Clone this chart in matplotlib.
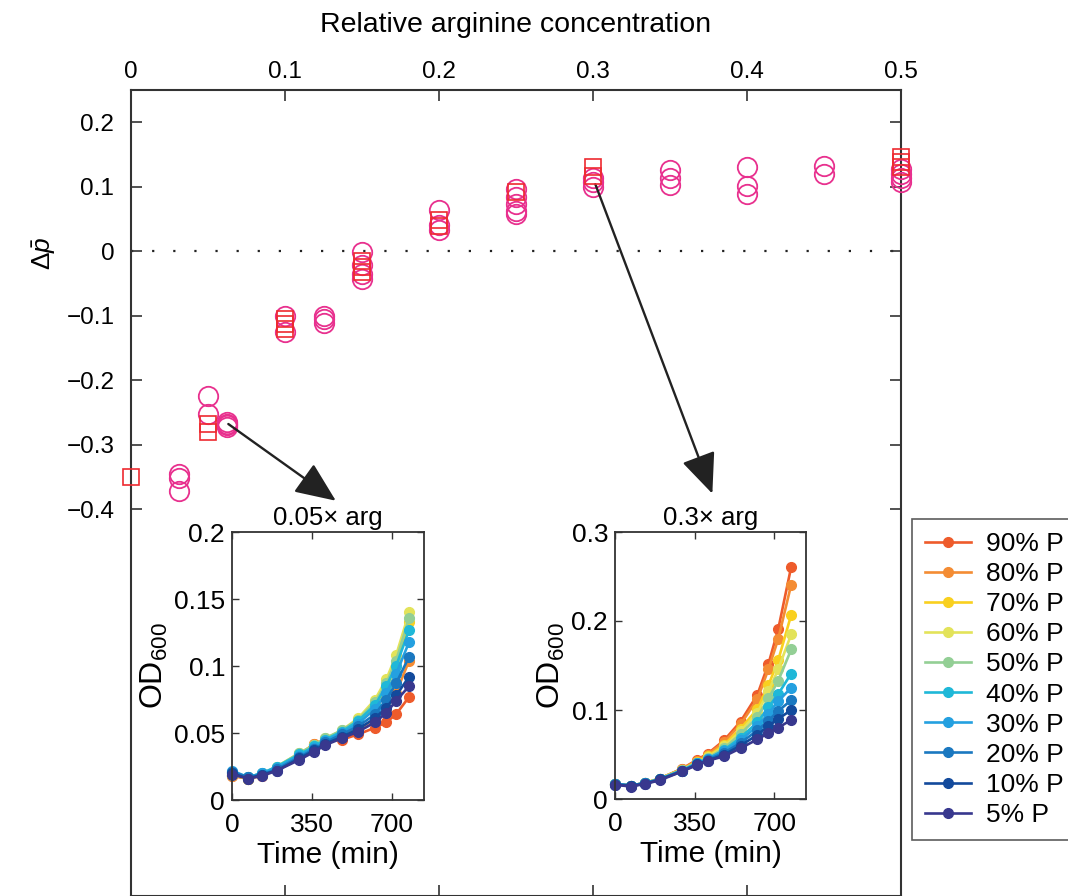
import matplotlib
matplotlib.use("Agg")
import matplotlib.pyplot as plt
import numpy as np

plt.rcParams['font.family'] = ['Liberation Sans', 'DejaVu Sans']
plt.rcParams['mathtext.fontset'] = 'custom'
plt.rcParams['mathtext.rm'] = 'Liberation Sans'
plt.rcParams['mathtext.it'] = 'Liberation Sans:italic'

# main panel: relative arginine concentration vs delta p-bar
circ_x = [0.03125] * 3 + [0.05] * 2 + [0.0625] * 4 + [0.1] * 2 + [0.125] * 3 \
    + [0.15] * 4 + [0.2] * 3 + [0.25] * 5 + [0.3] * 3 + [0.35] * 3 \
    + [0.4] * 3 + [0.45] * 2 + [0.5] * 4
circ_y = [-0.345, -0.351, -0.372,
          -0.225, -0.252,
          -0.265, -0.268, -0.270, -0.272,
          -0.100, -0.126,
          -0.100, -0.105, -0.111,
          -0.002, -0.022, -0.035, -0.043,
          0.064, 0.040, 0.033,
          0.096, 0.084, 0.073, 0.063, 0.057,
          0.114, 0.107, 0.099,
          0.126, 0.114, 0.102,
          0.131, 0.101, 0.088,
          0.132, 0.120,
          0.127, 0.120, 0.113, 0.107]
sq_x = [0.0, 0.05, 0.05, 0.1, 0.1, 0.1, 0.15, 0.15, 0.15, 0.2, 0.2,
        0.25, 0.3, 0.3, 0.5, 0.5, 0.5]
sq_y = [-0.350, -0.268, -0.281, -0.105, -0.113, -0.121, -0.015, -0.025, -0.033,
        0.048, 0.039, 0.092, 0.130, 0.116, 0.146, 0.139, 0.131]

# insets: OD600 growth curves
time_min = [0, 70, 133, 197, 295, 360, 408, 480, 552, 626, 675, 718, 775]
labels = ['90% P', '80% P', '70% P', '60% P', '50% P',
          '40% P', '30% P', '20% P', '10% P', '5% P']
colors = ['#EE5B2B', '#F48C33', '#F9D01F', '#E3E35A', '#93CF95',
          '#1FB8D8', '#24A0E0', '#1A78C0', '#134A9C', '#38388E']

od_005 = [
    [0.018, 0.016, 0.018, 0.023, 0.033, 0.042, 0.044, 0.045, 0.049, 0.054, 0.058, 0.064, 0.077],
    [0.018, 0.016, 0.019, 0.024, 0.034, 0.042, 0.045, 0.048, 0.053, 0.060, 0.068, 0.080, 0.104],
    [0.019, 0.016, 0.019, 0.024, 0.034, 0.041, 0.045, 0.050, 0.058, 0.070, 0.082, 0.100, 0.133],
    [0.019, 0.016, 0.019, 0.025, 0.035, 0.041, 0.046, 0.052, 0.061, 0.075, 0.090, 0.108, 0.140],
    [0.020, 0.017, 0.020, 0.025, 0.035, 0.041, 0.046, 0.052, 0.060, 0.073, 0.087, 0.104, 0.136],
    [0.021, 0.017, 0.020, 0.025, 0.034, 0.040, 0.045, 0.051, 0.059, 0.071, 0.085, 0.100, 0.127],
    [0.022, 0.017, 0.020, 0.024, 0.033, 0.039, 0.044, 0.050, 0.057, 0.068, 0.080, 0.094, 0.118],
    [0.021, 0.017, 0.019, 0.023, 0.032, 0.038, 0.043, 0.049, 0.055, 0.064, 0.075, 0.087, 0.107],
    [0.020, 0.016, 0.019, 0.022, 0.031, 0.037, 0.042, 0.047, 0.053, 0.061, 0.069, 0.078, 0.092],
    [0.019, 0.016, 0.018, 0.022, 0.030, 0.036, 0.041, 0.046, 0.051, 0.058, 0.065, 0.074, 0.085],
]
od_03 = [
    [0.017, 0.015, 0.018, 0.023, 0.034, 0.044, 0.051, 0.066, 0.087, 0.117, 0.152, 0.191, 0.261],
    [0.017, 0.015, 0.018, 0.023, 0.034, 0.043, 0.050, 0.064, 0.084, 0.112, 0.146, 0.180, 0.241],
    [0.017, 0.015, 0.018, 0.023, 0.033, 0.042, 0.048, 0.061, 0.079, 0.101, 0.128, 0.156, 0.207],
    [0.017, 0.015, 0.018, 0.023, 0.033, 0.041, 0.047, 0.059, 0.076, 0.097, 0.121, 0.146, 0.185],
    [0.017, 0.015, 0.018, 0.023, 0.033, 0.041, 0.046, 0.057, 0.073, 0.092, 0.113, 0.133, 0.168],
    [0.017, 0.015, 0.018, 0.022, 0.032, 0.040, 0.045, 0.055, 0.069, 0.086, 0.103, 0.118, 0.141],
    [0.017, 0.015, 0.018, 0.022, 0.032, 0.040, 0.045, 0.054, 0.066, 0.082, 0.096, 0.110, 0.125],
    [0.017, 0.015, 0.018, 0.022, 0.032, 0.039, 0.044, 0.052, 0.063, 0.077, 0.088, 0.099, 0.111],
    [0.016, 0.015, 0.017, 0.022, 0.031, 0.039, 0.043, 0.050, 0.060, 0.072, 0.082, 0.090, 0.100],
    [0.016, 0.014, 0.017, 0.021, 0.031, 0.038, 0.043, 0.048, 0.057, 0.067, 0.074, 0.080, 0.089],
]

spine_col = '#333333'
fig = plt.figure(figsize=(10.68, 8.96), dpi=100)

# Main axes (bottom runs to the figure edge)
ax = fig.add_axes([131 / 1068, 0.0, 770 / 1068, 1 - 90 / 896])
ax.set_xlim(0, 0.5)
ax.set_ylim(-1.0, 0.25)
ax.axhline(0, color='#222222', ls=(0, (1, 8.5)), lw=1.6, zorder=1)
ax.plot(circ_x, circ_y, 'o', ms=14, mfc='none', mec='#E8308E', mew=1.3,
        clip_on=False, zorder=3)
ax.plot(sq_x, sq_y, 's', ms=11, mfc='none', mec='#EE2A30', mew=1.2,
        clip_on=False, zorder=4)
ax.set_xticks([0, 0.1, 0.2, 0.3, 0.4, 0.5])
ax.set_xticklabels(['0', '0.1', '0.2', '0.3', '0.4', '0.5'])
ax.set_yticks([-0.4, -0.3, -0.2, -0.1, 0, 0.1, 0.2])
ax.set_yticklabels(['\u22120.4', '\u22120.3', '\u22120.2', '\u22120.1', '0', '0.1', '0.2'])
ax.xaxis.set_label_position('top')
ax.tick_params(axis='x', top=True, bottom=True, labeltop=True, labelbottom=False,
               direction='in', length=8, width=1.2, labelsize=17.5, pad=5, color=spine_col)
ax.tick_params(axis='y', left=True, right=True, direction='in', length=8, width=1.2,
               labelsize=17.5, pad=12, color=spine_col)
ax.set_xlabel('Relative arginine concentration', fontsize=20.5, labelpad=21)
ax.set_ylabel(r'$\Delta\bar{p}$', fontsize=19)
ax.yaxis.set_label_coords(-0.095, 0.797)
for s in ax.spines.values():
    s.set_color(spine_col)
    s.set_linewidth(1.5)

# arrows to the insets
arrow_kw = dict(arrowstyle='-|>,head_length=1.4,head_width=0.6', color='#222222',
                lw=1.7, mutation_scale=18, shrinkA=0, shrinkB=0)
ax.annotate('', xy=(0.133, -0.387), xytext=(0.0632, -0.268), arrowprops=arrow_kw)
ax.annotate('', xy=(0.3775, -0.376), xytext=(0.3015, 0.104), arrowprops=arrow_kw)


def draw_inset(rect, data, ymax, yticks, yticklabels, title):
    ia = fig.add_axes(rect)
    for lab, col, vals in zip(labels, colors, data):
        ia.plot(time_min, vals, '-o', color=col, ms=7, lw=1.9, label=lab, clip_on=False)
    ia.set_xlim(0, 840)
    ia.set_ylim(0, ymax)
    ia.set_xticks([0, 350, 700])
    ia.set_yticks(yticks)
    ia.set_yticklabels(yticklabels)
    ia.tick_params(direction='in', length=5, width=1.0, labelsize=19, top=True,
                   right=True, color=spine_col, pad=5)
    ia.tick_params(axis='x', pad=9)
    ia.set_xlabel('Time (min)', fontsize=21.5, labelpad=3)
    ia.set_ylabel(r'OD$_{600}$', fontsize=23, labelpad=3)
    ia.set_title(title, fontsize=18.5, pad=5)
    for s in ia.spines.values():
        s.set_color(spine_col)
        s.set_linewidth(1.3)
    return ia


draw_inset([232 / 1068, 1 - 800 / 896, 192 / 1068, 268 / 896], od_005, 0.2,
           [0, 0.05, 0.1, 0.15, 0.2], ['0', '0.05', '0.1', '0.15', '0.2'],
           '0.05\u00d7 arg')
ia2 = draw_inset([615 / 1068, 1 - 799 / 896, 191 / 1068, 267 / 896], od_03, 0.3,
                 [0, 0.1, 0.2, 0.3], ['0', '0.1', '0.2', '0.3'], '0.3\u00d7 arg')

handles, labs = ia2.get_legend_handles_labels()
leg = fig.legend(handles, labs, loc='upper left', bbox_to_anchor=(912 / 1068, 1 - 519 / 896),
                 fontsize=19, frameon=True, fancybox=False, edgecolor='#333333',
                 handlelength=1.75, handletextpad=0.55, labelspacing=0.23,
                 borderpad=0.5, borderaxespad=0)
leg.get_frame().set_linewidth(1.2)

fig.savefig('out.png', dpi=100)
